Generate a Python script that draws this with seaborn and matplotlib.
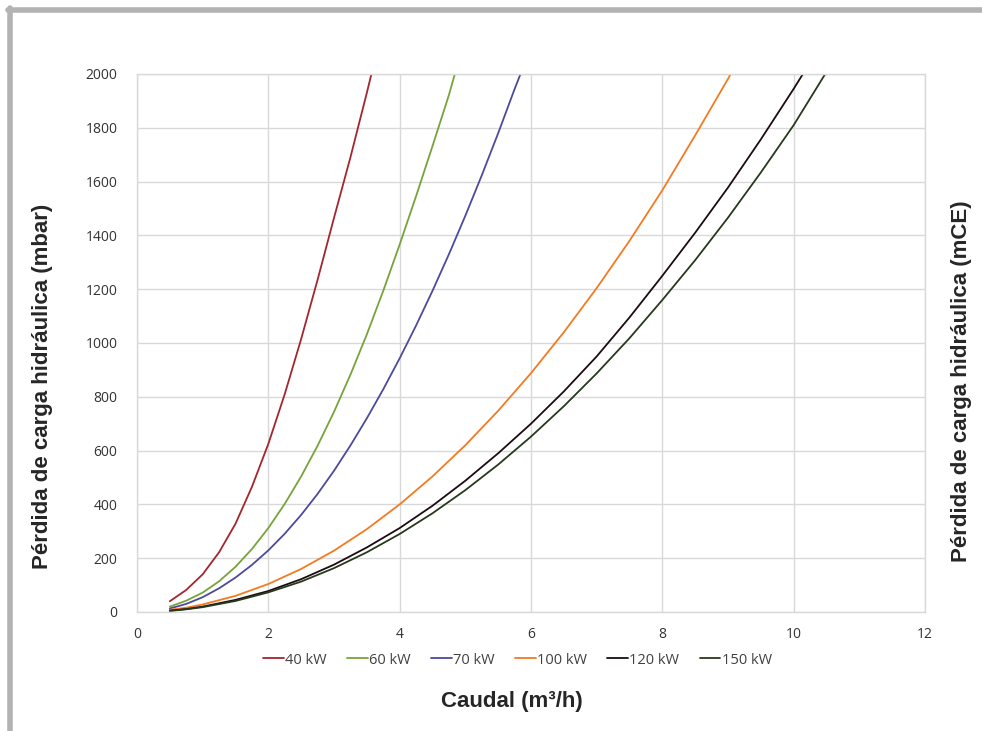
import numpy as np
import pandas as pd
import seaborn as sns
import matplotlib.pyplot as plt
from matplotlib.lines import Line2D

# valores: caudal (m3/h) y perdida de carga (mbar)
caudal_40 = [0.5, 0.75, 1.0, 1.25, 1.5, 1.75, 2.0, 2.25, 2.5, 2.75, 3.0,
             3.25, 3.5, 3.57]
perdida_40 = [40, 82, 140, 222, 328, 465, 625, 810, 1015, 1235, 1465,
              1690, 1930, 2000]

caudal_60 = [0.5, 0.75, 1.0, 1.25, 1.5, 1.75, 2.0, 2.25, 2.5, 2.75, 3.0,
             3.25, 3.5, 3.75, 4.0, 4.25, 4.5, 4.75, 4.84]
perdida_60 = [20, 42, 72, 114, 168, 234, 312, 402, 504, 618, 744,
              882, 1032, 1194, 1366, 1546, 1732, 1922, 2000]

caudal_70 = [0.5, 0.75, 1.0, 1.25, 1.5, 1.75, 2.0, 2.25, 2.5, 2.75, 3.0,
             3.25, 3.5, 3.75, 4.0, 4.25, 4.5, 4.75, 5.0, 5.25, 5.5, 5.75, 5.84]
perdida_70 = [13, 30, 55, 88, 128, 175, 229, 291, 361, 439, 525,
              619, 720, 828, 943, 1065, 1194, 1330, 1473, 1623, 1780, 1944, 2000]

caudal_100 = [0.5, 0.75, 1.0, 1.5, 2.0, 2.5, 3.0, 3.5, 4.0, 4.5, 5.0, 5.5, 6.0,
              6.5, 7.0, 7.5, 8.0, 8.5, 9.0, 9.04]
perdida_100 = [8, 16, 28, 60, 104, 160, 228, 308, 400, 504, 620, 748, 888,
               1040, 1204, 1380, 1568, 1772, 1982, 2000]

caudal_120 = [0.5, 0.75, 1.0, 1.5, 2.0, 2.5, 3.0, 3.5, 4.0, 4.5, 5.0, 5.5, 6.0,
              6.5, 7.0, 7.5, 8.0, 8.5, 9.0, 9.5, 10.0, 10.14]
perdida_120 = [5, 11, 20, 45, 78, 122, 176, 240, 312, 395, 488, 590, 700,
               820, 950, 1095, 1250, 1410, 1578, 1757, 1945, 2000]

caudal_150 = [0.5, 0.75, 1.0, 1.5, 2.0, 2.5, 3.0, 3.5, 4.0, 4.5, 5.0, 5.5, 6.0,
              6.5, 7.0, 7.5, 8.0, 8.5, 9.0, 9.5, 10.0, 10.48]
perdida_150 = [4, 10, 18, 41, 73, 113, 163, 222, 290, 367, 453, 548, 652,
               765, 887, 1018, 1160, 1308, 1466, 1634, 1810, 2000]

potencias = ['40 kW', '60 kW', '70 kW', '100 kW', '120 kW', '150 kW']
colores = ['#a3262e', '#77a33a', '#4c4a9c', '#f47a22', '#1c0c12', '#27391c']

series = [(caudal_40, perdida_40), (caudal_60, perdida_60),
          (caudal_70, perdida_70), (caudal_100, perdida_100),
          (caudal_120, perdida_120), (caudal_150, perdida_150)]

#armo un dataframe largo para seaborn
filas = []
for pot, (xs, ys) in zip(potencias, series):
    for x, y in zip(xs, ys):
        filas.append({'caudal': x, 'perdida': y, 'potencia': pot})
df = pd.DataFrame(filas)

sns.set_style('white')
plt.rcParams['font.family'] = ['Open Sans', 'DejaVu Sans']

fig = plt.figure(figsize=(9.82, 7.31), dpi=100)
ax = fig.add_axes([0.1395, 0.1628, 0.8025, 0.736])

sns.lineplot(data=df, x='caudal', y='perdida', hue='potencia',
             hue_order=potencias, palette=dict(zip(potencias, colores)),
             sort=False, estimator=None, linewidth=1.3, legend=False, ax=ax)

ax.set_xlim(0, 12)
ax.set_ylim(0, 2000)
ax.set_xticks(np.arange(0, 13, 2))
ax.set_yticks(np.arange(0, 2001, 200))
ax.grid(True, color='#d9d9d9', linewidth=1)
ax.set_axisbelow(True)
for s in ax.spines.values():
    s.set_color('#d9d9d9')
    s.set_linewidth(1)
ax.tick_params(axis='both', length=0, labelsize=10, labelcolor='#333333')
ax.tick_params(axis='x', pad=11)
ax.tick_params(axis='y', pad=14)
ax.set_xlabel('')
ax.set_ylabel('')

# leyenda abajo en una fila
handles = [Line2D([0], [0], color=c, linewidth=1.3) for c in colores]
fig.legend(handles, potencias, loc='center', bbox_to_anchor=(0.527, 0.097),
           ncol=6, frameon=False, fontsize=10.5, handlelength=1.4,
           handletextpad=0.1, columnspacing=1.4, labelcolor='#404040')

# titulos de ejes
fig.text(0.521, 0.041, 'Caudal (m³/h)', ha='center', va='center',
         fontsize=16, fontweight='bold', family='Liberation Sans')
fig.text(0.043, 0.472, 'Pérdida de carga hidráulica (mbar)', rotation=90,
         ha='center', va='center', fontsize=16, fontweight='bold',
         family='Liberation Sans')
fig.text(0.979, 0.478, 'Pérdida de carga hidráulica (mCE)', rotation=90,
         ha='center', va='center', fontsize=16, fontweight='bold',
         family='Liberation Sans')

# marco gris arriba y a la izquierda
fig.add_artist(Line2D([0.008, 1.0], [0.986, 0.986], color='#b3b3b3',
                      linewidth=4, transform=fig.transFigure))
fig.add_artist(Line2D([0.010, 0.010], [0.0, 0.989], color='#b3b3b3',
                      linewidth=4, transform=fig.transFigure))

fig.savefig('out.png', dpi=100)
